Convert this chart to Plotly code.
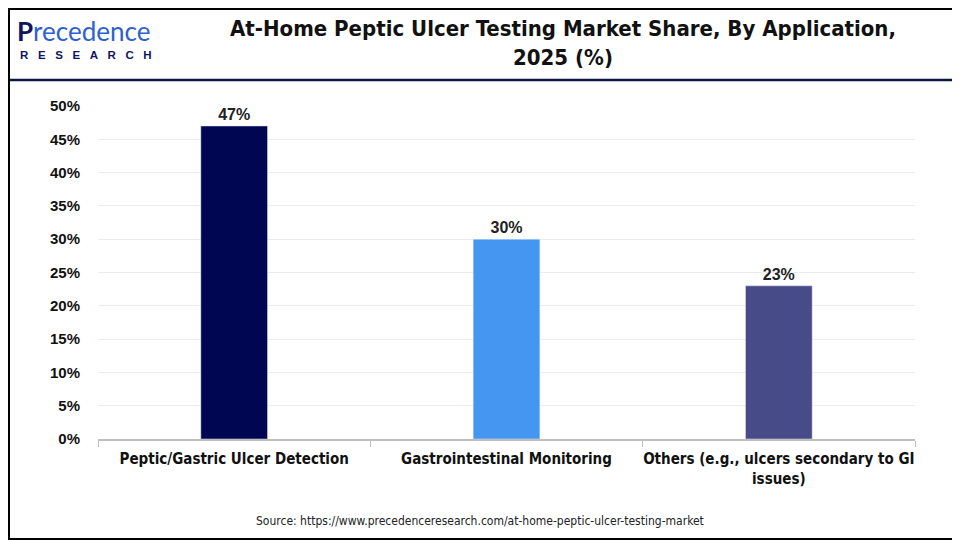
import plotly.graph_objects as go

categories = ["<b>Peptic/Gastric Ulcer Detection</b>", "<b>Gastrointestinal Monitoring</b>",
              "<b>Others (e.g., ulcers secondary to GI<br>issues)</b>"]
values = [47, 30, 23]
bar_colors = ["#000651", "#4596F0", "#474B87"]
y_ticks = [0, 5, 10, 15, 20, 25, 30, 35, 40, 45, 50]
y_tick_labels = [f"<b>{v}%</b>" for v in y_ticks]

# page is offset by the default 8px body margin
OFF = 8
W, H = 960 - OFF, 540 - OFF
L, R, T, B = 98 - OFF, 45, 106 - OFF, 101
pw, ph = W - L - R, H - T - B

def px_x(px):
    return (px - OFF - L) / pw

def px_y(py):
    return (H - B - (py - OFF)) / ph

fig = go.Figure()
fig.add_trace(go.Bar(
    x=categories, y=values, marker_color=bar_colors, width=0.245,
    text=[f"<b>{v}%</b>" for v in values], textposition="outside",
    textfont=dict(family="Arial, Liberation Sans", size=16, color="#222"),
    cliponaxis=False, hoverinfo="skip",
))

cond = "DejaVu Sans Condensed, Liberation Sans Narrow, sans-serif"

fig.update_layout(
    width=W, height=H, margin=dict(l=L, r=R, t=T, b=B),
    paper_bgcolor="white", plot_bgcolor="white", showlegend=False,
    bargap=0.75,
    xaxis=dict(showline=True, linecolor="#bfbfbf", linewidth=2, ticks="outside",
               tickson="boundaries", ticklen=6, tickcolor="#bfbfbf", tickwidth=1,
               tickfont=dict(family=cond, size=15, color="#111"), tickangle=0,
               ticklabelstandoff=5, showgrid=False),
    yaxis=dict(range=[0, 50], tickvals=y_ticks, ticktext=y_tick_labels,
               showgrid=True, gridcolor="#ececec", gridwidth=1, zeroline=False,
               tickfont=dict(family="Arial, Liberation Sans", size=15, color="#111"),
               ticks="", ticklabelstandoff=17),
)

# Title
fig.add_annotation(x=px_x(563), y=px_y(43), xref="paper", yref="paper",
                   text="<b>At-Home Peptic Ulcer Testing Market Share, By Application,<br>2025 (%)</b>",
                   showarrow=False, xanchor="center", yanchor="middle",
                   font=dict(family=cond, size=22, color="#111"), align="center")

# Logo
fig.add_annotation(x=px_x(15), y=px_y(31), xref="paper", yref="paper",
                   text="<span style='color:#0d1560'><b>P</b></span>recedence",
                   showarrow=False, xanchor="left", yanchor="middle",
                   font=dict(family="Lato, Open Sans", size=26, color="#2f5fd0"))
fig.add_annotation(x=px_x(18), y=px_y(55), xref="paper", yref="paper",
                   text="<b>R&nbsp;&nbsp;&nbsp;E&nbsp;&nbsp;&nbsp;S&nbsp;&nbsp;&nbsp;E&nbsp;&nbsp;&nbsp;A&nbsp;&nbsp;&nbsp;R&nbsp;&nbsp;&nbsp;C&nbsp;&nbsp;&nbsp;H</b>",
                   showarrow=False, xanchor="left", yanchor="middle",
                   font=dict(family="Arial, Liberation Sans", size=11.5, color="#0d1560"))

# Source
fig.add_annotation(x=px_x(480), y=px_y(521), xref="paper", yref="paper",
                   text="Source: https://www.precedenceresearch.com/at-home-peptic-ulcer-testing-market",
                   showarrow=False, xanchor="center", yanchor="middle",
                   font=dict(family=cond, size=12, color="#222"))

# Header separator
fig.add_shape(type="line", xref="paper", yref="paper",
              x0=px_x(OFF), x1=px_x(960), y0=px_y(80), y1=px_y(80),
              line=dict(color="#0d1540", width=2.5))
# Border
fig.add_shape(type="rect", xref="paper", yref="paper",
              x0=px_x(OFF + 1), x1=px_x(959), y0=px_y(OFF + 1), y1=px_y(539),
              line=dict(color="#000", width=2))

fig.write_html("out.html")
